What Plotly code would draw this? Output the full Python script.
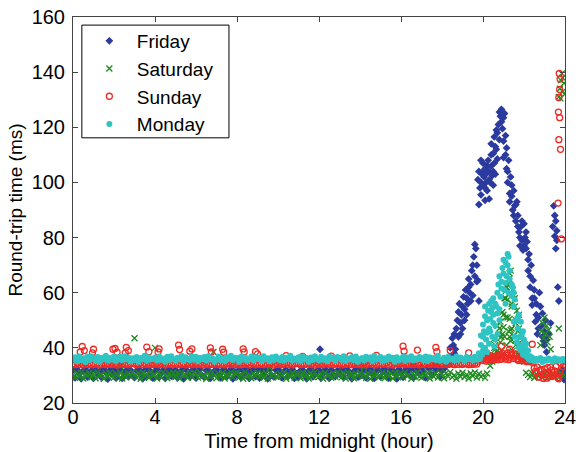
import plotly.graph_objects as go

# Round-trip time sampled every STEP_H hours from midnight, one list per day.
STEP_H = 0.1
hours_grid = [round(i * STEP_H, 1) for i in range(241)]

friday_rtt = [
    31.9, 29.1, 32.2, 30.6, 28.8, 31.6, 32.3, 29.4, 30.8, 31.8,
    28.9, 32.0, 30.3, 31.5, 29.2, 32.4, 31.1, 28.7, 31.9, 30.4,
    32.1, 29.0, 31.4, 32.2, 28.9, 30.7, 31.8, 29.5, 32.0, 30.1,
    29.2, 31.7, 32.3, 30.5, 28.8, 31.9, 29.6, 32.1, 30.9, 29.0,
    31.6, 32.2, 29.3, 30.8, 32.0, 28.9, 31.3, 32.4, 29.7, 31.0,
    32.0, 29.1, 30.6, 31.9, 28.8, 32.2, 30.2, 29.4, 31.7, 32.1,
    29.0, 31.5, 32.3, 30.0, 29.3, 31.8, 32.0, 28.9, 30.7, 31.6,
    32.2, 30.4, 29.1, 31.9, 32.0, 29.5, 30.9, 32.3, 28.8, 31.4,
    30.1, 32.1, 29.2, 31.7, 30.6, 32.4, 28.9, 31.2, 32.0, 29.6,
    31.8, 29.0, 32.2, 30.5, 31.6, 28.8, 32.1, 30.0, 29.4, 31.9,
    32.3, 30.8, 29.1, 31.5, 32.0, 29.7, 31.1, 32.2, 28.9, 30.6,
    29.3, 31.8, 32.1, 30.2, 28.8, 31.6, 32.4, 29.5, 30.9, 31.7,
    32.0, 29.0, 30.7, 32.2, 31.4, 28.9, 32.1, 30.3, 29.6, 31.8,
    30.5, 32.3, 29.2, 31.9, 32.0, 30.1, 28.8, 31.5, 32.2, 29.4,
    31.7, 30.0, 32.1, 29.1, 31.3, 32.4, 30.6, 28.9, 31.9, 32.0,
    29.5, 31.6, 32.2, 30.4, 29.0, 32.1, 31.8, 30.7, 28.8, 32.3,
    31.2, 29.3, 32.0, 31.7, 30.2, 32.4, 29.1, 31.9, 32.6, 30.5,
    32.8, 31.4, 29.2, 33.0, 32.5, 30.3, 33.4, 31.8, 32.9, 29.4,
    31.8, 32.4, 33.5, 36.0, 40.0, 43.5, 38.0, 47.0, 53.0, 45.0,
    55.0, 50.0, 58.0, 62.0, 57.0, 70.0, 77.5, 64.0, 92.0, 100.0,
    104.0, 98.0, 106.0, 101.0, 110.0, 104.0, 113.0, 118.0, 125.5, 122.0,
    115.0, 110.0, 104.0, 96.0, 99.0, 88.0, 92.0, 84.0, 80.0, 86.0,
    77.0, 82.0, 72.0, 66.0, 58.0, 61.0, 52.0, 47.0, 55.0, 44.0,
    41.0, 38.5, 45.0, 49.0, 84.0, 88.0, 79.0, 57.0, 31.0, 29.5,
    30.5,
]

saturday_rtt = [
    30.2, 29.1, 30.9, 29.6, 31.1, 28.9, 30.4, 29.8, 31.0, 29.3,
    30.7, 29.0, 31.2, 29.9, 30.3, 28.8, 30.8, 29.5, 31.0, 30.1,
    29.2, 30.6, 29.8, 31.1, 28.9, 30.4, 29.4, 30.9, 29.7, 31.2,
    30.0, 29.3, 30.8, 28.8, 31.0, 29.6, 30.5, 29.1, 31.3, 29.9,
    30.4, 28.9, 30.9, 29.5, 31.1, 30.2, 29.0, 30.7, 29.7, 31.0,
    29.4, 30.8, 28.9, 31.2, 29.8, 30.3, 29.1, 30.9, 29.6, 31.0,
    30.5, 29.2, 31.1, 29.7, 30.0, 28.8, 30.8, 29.4, 31.2, 29.9,
    29.0, 30.6, 29.5, 31.0, 28.9, 30.3, 29.8, 31.1, 29.3, 30.7,
    30.9, 29.2, 30.4, 28.8, 31.2, 29.6, 30.1, 29.0, 30.8, 29.7,
    31.0, 29.4, 30.6, 29.1, 30.9, 28.9, 31.1, 29.8, 30.2, 29.5,
    29.3, 30.8, 29.9, 31.2, 28.8, 30.5, 29.6, 31.0, 29.2, 30.4,
    30.7, 29.0, 31.1, 29.7, 30.3, 28.9, 30.9, 29.4, 31.2, 29.8,
    29.5, 30.6, 28.8, 31.0, 29.9, 30.2, 29.1, 30.8, 29.6, 31.1,
    30.4, 29.3, 30.9, 28.9, 31.2, 29.7, 30.5, 29.0, 30.7, 29.8,
    31.0, 29.4, 30.3, 29.1, 30.8, 28.8, 31.1, 29.6, 30.6, 29.2,
    29.9, 31.2, 29.0, 30.5, 29.7, 30.9, 28.9, 31.0, 29.5, 30.3,
    30.8, 29.3, 31.1, 29.8, 30.2, 28.8, 30.7, 29.4, 31.2, 29.6,
    29.1, 30.6, 29.9, 31.0, 28.9, 30.4, 29.5, 30.8, 29.2, 31.1,
    30.5, 29.0, 30.9, 29.7, 31.2, 29.3, 30.1, 28.8, 30.7, 29.6,
    31.0, 29.4, 30.3, 28.9, 30.8, 29.8, 31.1, 29.2, 30.6, 29.5,
    30.2, 29.1, 30.7, 35.0, 38.0, 36.5, 41.0, 39.0, 47.0, 44.0,
    52.0, 58.0, 63.0, 67.0, 55.0, 59.0, 50.0, 46.0, 42.0, 38.0,
    35.0, 31.0, 30.2, 29.4, 30.8, 29.1, 30.5, 29.7, 30.9, 29.3,
    30.4, 29.0, 30.7, 29.6, 30.1, 29.4, 30.8, 29.2, 31.0, 29.8,
    30.3,
]

sunday_rtt = [
    34.2, 33.9, 34.4, 34.0, 34.5, 33.8, 34.3, 34.0, 34.4, 33.9,
    34.3, 34.0, 34.5, 33.8, 34.1, 34.4, 33.9, 34.3, 34.0, 34.4,
    33.9, 34.3, 33.8, 34.5, 34.1, 34.0, 34.4, 33.9, 34.2, 34.4,
    34.3, 33.8, 34.1, 34.5, 33.9, 34.3, 34.0, 34.4, 33.9, 34.2,
    34.0, 34.4, 33.9, 34.3, 34.5, 33.8, 34.1, 34.3, 33.9, 34.4,
    34.1, 33.9, 34.4, 34.0, 34.3, 33.8, 34.5, 34.0, 34.3, 33.9,
    34.4, 34.0, 34.2, 33.8, 34.5, 34.1, 33.9, 34.3, 34.0, 34.4,
    33.9, 34.3, 34.0, 34.4, 33.8, 34.2, 34.4, 33.9, 34.5, 34.0,
    34.3, 33.9, 34.1, 34.4, 34.0, 34.3, 33.8, 34.5, 34.2, 33.9,
    34.4, 34.0, 34.3, 33.9, 34.4, 34.0, 34.1, 34.5, 33.8, 34.3,
    34.0, 34.4, 33.9, 34.2, 34.5, 34.0, 34.3, 33.8, 34.1, 34.4,
    34.3, 33.9, 34.4, 34.0, 34.1, 34.4, 33.9, 34.3, 33.8, 34.5,
    34.0, 34.3, 33.9, 34.4, 34.2, 34.0, 34.5, 33.9, 34.3, 34.1,
    34.4, 33.8, 34.2, 34.0, 34.5, 34.1, 33.9, 34.3, 34.0, 34.4,
    33.9, 34.3, 34.4, 33.9, 34.1, 34.4, 34.0, 34.5, 33.8, 34.2,
    34.3, 34.0, 34.1, 34.5, 33.9, 34.3, 33.8, 34.4, 34.2, 34.0,
    34.1, 34.4, 33.9, 34.3, 34.0, 34.5, 33.9, 34.3, 34.1, 33.8,
    34.4, 34.0, 34.2, 34.4, 33.9, 34.3, 34.1, 34.0, 34.5, 33.9,
    34.3, 33.9, 34.4, 34.0, 34.3, 34.1, 33.9, 34.5, 34.0, 34.4,
    34.0, 34.3, 34.2, 33.9, 34.4, 34.0, 34.3, 34.1, 35.2, 36.0,
    35.4, 36.6, 35.8, 37.2, 36.0, 35.5, 36.9, 35.7, 37.6, 36.3,
    37.0, 35.9, 38.2, 36.4, 37.5, 36.1, 37.8, 35.6, 36.8, 35.9,
    36.5, 35.2, 36.0, 35.4, 34.8, 32.6, 30.9, 29.4, 31.8, 30.2,
    32.4, 29.0, 31.2, 33.0, 29.8, 31.6, 30.5, 28.8, 34.5, 33.2,
    34.0,
]

monday_rtt = [
    35.8, 36.6, 35.1, 36.9, 35.5, 36.2, 34.9, 36.8, 35.6, 37.0,
    36.1, 35.3, 36.7, 35.0, 36.4, 35.9, 37.1, 35.4, 36.3, 35.7,
    36.9, 35.2, 36.0, 36.8, 35.5, 37.0, 35.8, 36.5, 35.1, 36.2,
    35.6, 36.7, 35.0, 36.3, 35.9, 37.1, 35.3, 36.6, 35.8, 36.0,
    36.5, 35.4, 36.9, 35.7, 36.1, 35.0, 36.8, 35.6, 37.0, 35.9,
    35.3, 36.4, 35.8, 37.1, 35.2, 36.6, 36.0, 35.5, 36.9, 35.7,
    36.8, 35.1, 36.3, 35.9, 36.7, 35.4, 37.0, 35.8, 36.2, 35.0,
    35.7, 36.9, 35.5, 36.1, 35.2, 36.6, 35.9, 37.1, 35.6, 36.4,
    36.3, 35.0, 36.8, 35.7, 36.5, 35.3, 36.0, 36.9, 35.4, 36.7,
    35.9, 36.5, 35.2, 37.0, 35.8, 36.2, 35.1, 36.6, 35.6, 36.9,
    36.0, 35.5, 36.7, 35.3, 36.4, 35.9, 37.1, 35.4, 36.1, 35.7,
    36.6, 35.2, 36.9, 35.8, 36.3, 35.0, 36.5, 35.6, 37.0, 35.9,
    35.4, 36.8, 35.7, 36.2, 35.1, 36.9, 35.9, 36.5, 35.3, 36.7,
    36.4, 35.6, 37.0, 35.2, 36.1, 35.8, 36.6, 35.5, 36.9, 35.0,
    35.8, 36.3, 35.4, 36.8, 35.9, 36.5, 35.1, 37.1, 35.7, 36.0,
    36.7, 35.3, 36.2, 35.6, 36.9, 35.9, 36.4, 35.0, 36.6, 35.5,
    35.9, 36.8, 35.2, 36.5, 35.7, 37.0, 35.4, 36.1, 35.8, 36.7,
    36.2, 35.5, 36.9, 35.1, 36.6, 35.9, 36.3, 35.6, 37.1, 35.3,
    35.7, 36.4, 35.0, 36.8, 35.8, 36.1, 35.4, 36.9, 35.6, 36.5,
    36.0, 35.3, 36.7, 35.9, 36.2, 35.5, 36.8, 35.7, 38.0, 41.0,
    44.0, 40.0, 50.0, 47.0, 53.0, 49.0, 56.0, 60.0, 54.0, 64.0,
    67.0, 71.0, 74.0, 65.0, 59.0, 55.0, 50.0, 47.0, 44.0, 41.0,
    38.5, 37.0, 36.2, 35.6, 36.4, 35.1, 36.0, 35.5, 36.3, 34.9,
    35.8, 35.3, 36.1, 35.6, 35.0, 36.2, 35.4, 35.9, 35.2, 36.0,
    35.5,
]

# Additional (hour, rtt) samples recorded between the regular grid points.
friday_extra = [
    (12.05, 39.5), (16.6, 34.2), (17.3, 34.8),
    (18.35, 34.5), (18.45, 37.0), (18.55, 41.0), (18.6, 45.0), (18.65, 39.5),
    (18.75, 50.0), (18.8, 44.0), (18.85, 56.0), (18.9, 49.0), (18.95, 52.0),
    (19.0, 47.0), (19.05, 58.5), (19.1, 54.0), (19.15, 61.0), (19.2, 52.0),
    (19.25, 56.0), (19.3, 65.0), (19.35, 60.0), (19.4, 63.0), (19.45, 68.0),
    (19.5, 59.0), (19.55, 73.0), (19.6, 66.0), (19.65, 76.0), (19.7, 70.0),
    (19.75, 64.5), (19.8, 57.0),
    (19.75, 101.0), (19.8, 104.0), (19.85, 98.0), (19.9, 108.0), (19.9, 95.5),
    (19.95, 103.0), (20.0, 99.0), (20.0, 107.0), (20.05, 102.0), (20.1, 105.0),
    (20.1, 93.5), (20.15, 100.0), (20.2, 103.5), (20.2, 97.0), (20.25, 108.0),
    (20.3, 104.0), (20.3, 94.0), (20.35, 100.0), (20.4, 106.0), (20.45, 102.5),
    (20.5, 99.0), (20.5, 110.5), (20.55, 107.0), (20.6, 103.0), (20.65, 112.0),
    (20.7, 108.5),
    (20.4, 114.0), (20.55, 116.5), (20.65, 119.0), (20.75, 121.0), (20.8, 115.5),
    (20.85, 124.0), (20.9, 126.5), (20.95, 119.5), (21.0, 123.5), (21.05, 125.0),
    (21.1, 117.0), (21.15, 112.5), (21.0, 109.0),
    (21.15, 105.0), (21.2, 100.0), (21.25, 108.0), (21.3, 93.0), (21.35, 102.0),
    (21.4, 95.0), (21.45, 90.0), (21.5, 97.0), (21.55, 91.5), (21.6, 86.0),
    (21.65, 93.0), (21.7, 88.0),
    (21.75, 82.0), (21.8, 77.0), (21.85, 84.0), (21.9, 79.0), (21.95, 75.5),
    (22.0, 85.0), (22.05, 80.0), (22.1, 76.0), (22.15, 78.5), (22.2, 68.0),
    (22.25, 74.0),
    (22.3, 62.0), (22.35, 70.0), (22.4, 55.5), (22.45, 64.5), (22.5, 58.0),
    (22.55, 49.5), (22.6, 56.0), (22.65, 45.0), (22.7, 51.0), (22.75, 60.0),
    (22.85, 48.0), (22.9, 52.5), (22.95, 42.5), (23.0, 46.0), (23.05, 50.0),
    (23.1, 43.0),
    (23.45, 91.5), (23.5, 80.5), (23.55, 86.0), (23.6, 82.5), (23.65, 62.0),
    (23.55, 76.0), (23.85, 32.0), (23.95, 28.5),
]

saturday_extra = [
    (2.3, 33.5), (3.0, 43.5), (4.0, 40.0), (6.85, 38.5), (9.6, 32.8), (14.2, 33.0),
    (20.35, 33.5), (20.45, 35.0), (20.55, 40.0), (20.6, 37.0), (20.65, 38.5),
    (20.75, 44.5), (20.75, 36.5), (20.85, 42.0), (20.85, 49.5), (20.9, 39.0),
    (20.95, 53.0), (21.0, 47.5), (21.05, 44.0), (21.05, 58.0), (21.1, 51.0),
    (21.15, 62.0), (21.15, 41.0), (21.2, 57.5), (21.25, 65.0), (21.25, 46.0),
    (21.3, 50.5), (21.35, 68.0), (21.35, 42.5), (21.4, 47.0), (21.45, 61.0),
    (21.45, 39.0), (21.5, 44.5), (21.55, 55.0), (21.6, 41.0), (21.65, 53.5),
    (21.7, 38.0), (21.75, 47.0), (21.8, 43.5), (21.85, 36.0), (21.9, 40.5),
    (21.95, 38.0), (22.0, 36.5),
    (20.5, 43.0), (20.7, 48.0), (20.95, 45.0), (21.1, 60.5), (21.2, 51.0),
    (21.3, 63.0), (21.4, 56.0), (21.55, 58.0), (21.7, 50.5), (21.85, 45.0),
    (21.3, 44.0), (21.35, 46.5), (21.4, 43.0), (21.6, 49.0), (21.75, 52.0),
    (22.8, 41.0), (22.85, 46.0), (22.9, 49.0), (22.95, 43.5), (23.0, 51.0),
    (23.05, 45.0), (23.1, 48.0), (23.15, 42.0), (23.2, 46.5), (23.25, 44.0),
    (23.3, 39.5), (23.7, 47.0),
    (23.7, 131.0), (23.75, 134.0), (23.8, 137.0), (23.85, 139.5), (23.9, 133.0),
    (23.95, 136.0), (23.78, 130.5), (23.88, 138.0), (23.98, 132.0),
]

sunday_extra = [
    (0.35, 38.5), (0.45, 40.5), (0.55, 39.0), (0.95, 38.2), (1.0, 39.5),
    (1.95, 39.5), (2.05, 39.8), (2.15, 38.4), (2.55, 38.2), (2.6, 40.2),
    (2.7, 39.0), (3.6, 40.3), (3.7, 38.6), (4.15, 38.5), (4.2, 39.6),
    (5.15, 41.0), (5.2, 39.4), (5.7, 38.8), (5.8, 39.6), (6.7, 40.0),
    (6.75, 38.5), (7.3, 39.5), (7.35, 38.4), (8.3, 39.6), (8.35, 38.5),
    (8.9, 38.6), (9.0, 37.8), (10.4, 37.2), (11.2, 36.9), (12.6, 37.0),
    (13.5, 37.1), (14.8, 37.3), (16.1, 40.6), (16.15, 38.8), (16.8, 39.2),
    (17.7, 40.2), (17.75, 38.6), (18.4, 39.0), (19.3, 38.2),
    (20.05, 36.2), (20.15, 35.2), (20.25, 36.8), (20.35, 35.6), (20.45, 37.0),
    (20.55, 35.9), (20.65, 36.5), (20.75, 37.4), (20.85, 35.8), (20.95, 38.0),
    (21.05, 36.6), (21.15, 37.3), (21.25, 35.7), (21.35, 38.3), (21.45, 36.2),
    (21.55, 37.1), (21.65, 36.0), (21.75, 35.4), (21.85, 36.7), (21.95, 35.3),
    (22.05, 36.1), (22.15, 35.0), (22.25, 35.8), (22.35, 35.2),
    (20.9, 40.6), (21.3, 39.5), (22.4, 41.3),
    (22.55, 31.5), (22.65, 33.0), (22.75, 29.5), (22.85, 32.2), (22.95, 28.9),
    (23.05, 30.8), (23.15, 32.8), (23.25, 29.6), (23.35, 31.9), (23.45, 30.1),
    (23.55, 33.2), (23.65, 29.2), (23.75, 31.3),
    (23.72, 139.5), (23.76, 137.5), (23.74, 133.7), (23.7, 130.8),
    (23.68, 125.5), (23.74, 123.5), (23.7, 115.5), (23.78, 112.0),
    (23.66, 92.5), (23.82, 79.5),
]

monday_extra = [
    (19.85, 36.0), (19.95, 37.5), (20.0, 39.0), (20.05, 46.0), (20.1, 51.5),
    (20.15, 43.0), (20.2, 38.5), (20.25, 53.5), (20.3, 41.5), (20.35, 46.0),
    (20.4, 57.0), (20.45, 44.0), (20.5, 52.0), (20.55, 40.5), (20.6, 48.0),
    (20.65, 55.0), (20.7, 45.0), (20.75, 63.0), (20.8, 50.0), (20.85, 58.5),
    (20.95, 69.0), (21.05, 61.0), (21.1, 56.0),
    (21.15, 66.0), (21.2, 70.0), (21.25, 60.0),
    (21.45, 62.0), (21.5, 49.5), (21.55, 44.0),
    (21.65, 42.0), (21.7, 51.0), (21.75, 40.0),
    (21.85, 39.0), (21.9, 45.0), (21.95, 37.5), (22.05, 40.0), (22.15, 38.5),
    (22.25, 35.8),
    (19.9, 44.5), (20.0, 48.5), (20.1, 55.0), (20.2, 45.5), (20.3, 56.0),
    (20.35, 50.5), (20.45, 54.5), (20.5, 58.0), (20.6, 43.0), (20.7, 52.5),
    (20.8, 66.0), (20.9, 61.5), (21.0, 72.0),
    (21.1, 63.5), (21.25, 73.0), (21.3, 68.0),
    (21.4, 63.0), (21.5, 60.0), (21.55, 57.5),
    (21.75, 52.0), (21.85, 49.5), (21.95, 46.0), (22.0, 43.0), (22.1, 41.5),
    (22.2, 39.0), (22.3, 37.0),
]

days = [
    ("Friday", friday_rtt, friday_extra,
     dict(symbol="diamond", size=6, color="#2b3a9e")),
    ("Saturday", saturday_rtt, saturday_extra,
     dict(symbol="x-thin", size=6, color="#1f8a1f",
          line=dict(width=1.3, color="#1f8a1f"))),
    ("Sunday", sunday_rtt, sunday_extra,
     dict(symbol="circle-open", size=6, color="#ee2a24",
          line=dict(width=1.3, color="#ee2a24"))),
    ("Monday", monday_rtt, monday_extra,
     dict(symbol="circle", size=6, color="#2ec4c4")),
]

fig = go.Figure()
for name, rtt, extra, marker in days:
    assert len(rtt) == len(hours_grid)
    xs = hours_grid + [h for h, _ in extra]
    ys = rtt + [v for _, v in extra]
    fig.add_trace(go.Scatter(
        x=xs, y=ys, mode="markers", name=name, legendgroup=name,
        marker=marker, cliponaxis=True,
    ))

family = "Liberation Sans, Arial, sans-serif"
tick_font = dict(family=family, size=20, color="black")

fig.update_xaxes(
    range=[0, 24], tickvals=[0, 4, 8, 12, 16, 20, 24],
    ticks="inside", ticklen=5, tickcolor="#444", tickwidth=1,
    showline=True, linecolor="#444", linewidth=1, mirror="ticks",
    showgrid=False, zeroline=False, tickfont=tick_font, automargin=False,
    ticklabelstandoff=-4,
    title=dict(text="Time from midnight (hour)",
               font=dict(family=family, size=20, color="black"), standoff=10),
)
fig.update_yaxes(
    range=[20, 160], tickvals=[20, 40, 60, 80, 100, 120, 140, 160],
    ticks="inside", ticklen=5, tickcolor="#444", tickwidth=1,
    showline=True, linecolor="#444", linewidth=1, mirror="ticks",
    showgrid=False, zeroline=False, tickfont=tick_font, ticklabelstandoff=3,
    automargin=False,
    title=dict(text="Round-trip time (ms)",
               font=dict(family=family, size=19, color="black"), standoff=3),
)

# Legend frame drawn as a rectangle so its size can be set independently
# of the legend's own padding.
fig.add_shape(
    type="rect", xref="paper", yref="paper",
    x0=0.018, x1=0.317, y0=0.687, y1=0.979,
    line=dict(color="black", width=1), fillcolor="white", layer="below",
)

fig.update_layout(
    width=578, height=452,
    margin=dict(l=73, r=13, t=17, b=49),
    paper_bgcolor="white", plot_bgcolor="white",
    font=dict(family=family, color="black"),
    legend=dict(
        x=0.018, y=0.987, xanchor="left", yanchor="top",
        borderwidth=0, bgcolor="rgba(0,0,0,0)",
        font=dict(family=family, size=19, color="black"),
        tracegroupgap=0, itemwidth=45,
    ),
)

fig.write_html("out.html")
